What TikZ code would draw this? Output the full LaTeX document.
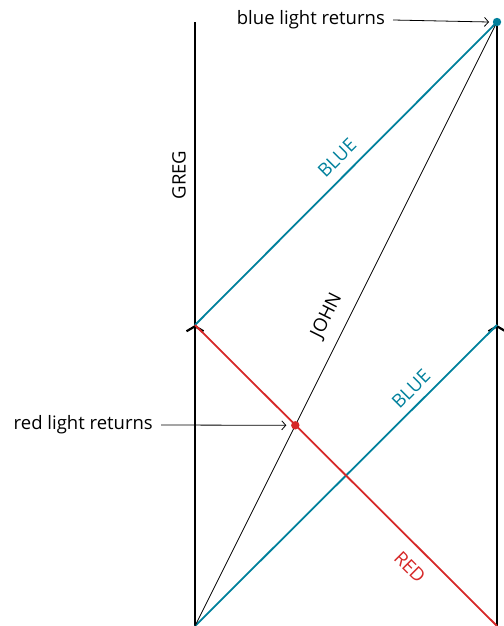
\documentclass[tikz,border=0pt]{standalone}
\usepackage{fontspec}
\setmainfont{Open Sans}
\usetikzlibrary{arrows.meta}
\definecolor{lblue}{RGB}{0,128,156}
\definecolor{lred}{RGB}{214,40,40}
\tikzset{
  world/.style={line width=2.8pt, black},
  bluelight/.style={line width=1.8pt, lblue},
  redlight/.style={line width=1.8pt, lred},
  johnline/.style={line width=0.8pt, black},
  note/.style={line width=0.8pt, -{Straight Barb[length=4pt,width=9pt,line width=0.8pt]}},
  lbl/.style={font=\fontsize{18.5}{20}\selectfont, inner sep=1pt},
  midtip/.style={-{Straight Barb[length=5pt,width=17pt,line width=2.2pt]}}
}
\begin{document}
\begin{tikzpicture}[x=1pt,y=-1pt]
\useasboundingbox (0,0) rectangle (503,626);
\coordinate (GB) at (195,626);
\coordinate (GM) at (195,325);
\coordinate (GT) at (195,22);
\coordinate (JB) at (497,626);
\coordinate (JM) at (497,325);
\coordinate (JT) at (497,22);
\coordinate (RD) at (295.3,425.3);
% world lines
\draw[world, midtip] (GB) -- (GM);
\draw[world] (GM) -- (GT);
\draw[world, midtip] (JB) -- (JM);
\draw[world] (JM) -- (JT);
% light rays
\draw[bluelight] (GB) -- (JM);
\draw[bluelight] (GM) -- (JT);
\draw[redlight] (GM) -- (JB);
\draw[johnline] (GB) -- (JT);
% dots
\fill[lblue] (JT) circle (4.2pt);
\fill[lred] (RD) circle (4.2pt);
% labels
\node[lbl, rotate=90] (greg) at (179,175) {GREG};
\node[lbl, rotate=45, text=lblue] (blue1) at (337,158) {BLUE};
\node[lbl, rotate=45, text=lblue] (blue2) at (411,389) {BLUE};
\node[lbl, rotate=-45, text=lred] (red) at (410,567) {RED};
\node[lbl, rotate=63.4] (john) at (327,316) {JOHN};
\node[lbl, anchor=east] (bl) at (386,20) {blue light returns};
\node[lbl, anchor=east] (rl) at (154,425) {red light returns};
\draw[note] ([xshift=7pt]bl.east) -- ([xshift=-8pt]JT);
\draw[note] ([xshift=7pt]rl.east) -- ([xshift=-9pt]RD);
\end{tikzpicture}
\end{document}
